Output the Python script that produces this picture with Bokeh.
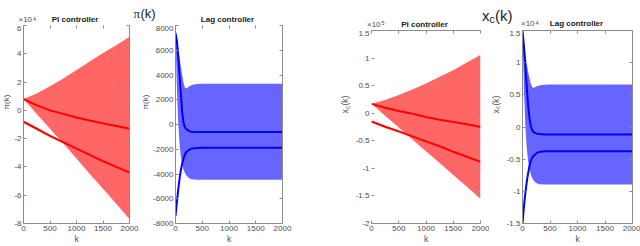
import math
from bokeh.plotting import figure
from bokeh.layouts import row, column
from bokeh.models import Range1d, FixedTicker, LinearAxis, Label
from bokeh.embed import file_html
from bokeh.resources import INLINE

# ---------------- data ----------------
k_ticks = [0, 500, 1000, 1500, 2000]
k_ticklabels = ["0", "500", "1000", "1500", "2000"]

# PI controller (slowly drifting, growing band)
k_pi = [0, 250, 500, 750, 1000, 1250, 1500, 1750, 2000]
k_pi_band = [0, 250, 500, 750]

pi_PI_env_hi = [8000, 12000, 17000, 22500, 28500, 34500, 40500, 46000, 52000]
pi_PI_env_lo = [8000, -2500, -13000, -23500, -34000, -45000, -55500, -66000, -77000]
pi_PI_band_hi = [-7400, -12400, -17400, -21900]
pi_PI_band_lo = [-8900, -13900, -18900, -23400]
pi_PI_upper = [8000, 3500, 0, -2500, -5000, -7200, -9200, -11000, -13000]
pi_PI_lower = [-8000, -13000, -18000, -22500, -27000, -31500, -36000, -40000, -44000]

xc_PI_env_hi = [17000, 24000, 33000, 43000, 54000, 66000, 78000, 92000, 106000]
xc_PI_env_lo = [17000, -4500, -26000, -47500, -69000, -90500, -112000, -133500, -155000]
xc_PI_band_hi = [-13500, -23000, -31500, -40500]
xc_PI_band_lo = [-17000, -26500, -35000, -44000]
xc_PI_upper = [17000, 10000, 4000, -1000, -7000, -12000, -16000, -20000, -25000]
xc_PI_lower = [-15000, -24500, -33000, -42000, -51000, -60000, -70000, -79000, -88000]

# Lag controller (fast settling, bounded band)
k_lag = [0, 25, 50, 75, 100, 125, 150, 175, 200, 250, 300, 400, 500, 750, 1000, 1500, 2000]

pi_LAG_env_hi = [7400, 7000, 6200, 5400, 4700, 4000, 3400, 3000, 2900, 3050, 3200, 3280, 3300, 3300, 3300, 3300, 3300]
pi_LAG_env_lo = [7400, 3000, 200, -1500, -2600, -3250, -3650, -3900, -4100, -4330, -4420, -4460, -4470, -4470, -4470, -4470, -4470]
pi_LAG_upper = [7400, 6800, 5600, 4000, 2500, 1000, 150, -200, -380, -520, -580, -600, -600, -600, -600, -600, -600]
pi_LAG_lower = [-7400, -6300, -5300, -4400, -3700, -3150, -2750, -2450, -2250, -2050, -1950, -1890, -1880, -1880, -1880, -1880, -1880]

xc_LAG_env_hi = [14900, 13000, 11500, 10000, 8700, 7600, 6800, 6200, 6050, 6300, 6450, 6580, 6600, 6600, 6600, 6600, 6600]
xc_LAG_env_lo = [14900, 6000, 400, -3000, -5200, -6500, -7300, -7900, -8300, -8700, -8880, -8940, -8950, -8950, -8950, -8950, -8950]
xc_LAG_upper = [14900, 12700, 9700, 6500, 3600, 1500, 150, -450, -800, -1000, -1100, -1150, -1150, -1150, -1150, -1150, -1150]
xc_LAG_lower = [-15000, -12500, -10400, -8700, -7300, -6100, -5300, -4800, -4500, -4100, -3880, -3780, -3750, -3750, -3750, -3750, -3750]

# y ticks / labels
pi_PI_yticks = [-80000, -60000, -40000, -20000, 0, 20000, 40000, 60000]
pi_PI_ylabels = ["-8", "-6", "-4", "-2", "0", "2", "4", "6"]
pi_LAG_yticks = [-8000, -6000, -4000, -2000, 0, 2000, 4000, 6000, 8000]
pi_LAG_ylabels = ["-8000", "-6000", "-4000", "-2000", "0", "2000", "4000", "6000", "8000"]
xc_PI_yticks = [-200000, -150000, -100000, -50000, 0, 50000, 100000, 150000]
xc_PI_ylabels = ["-2", "-1.5", "-1", "-0.5", "0", "0.5", "1", "1.5"]
xc_LAG_yticks = [-15000, -10000, -5000, 0, 5000, 10000, 15000]
xc_LAG_ylabels = ["-1.5", "-1", "-0.5", "0", "0.5", "1", "1.5"]

# ---------------- styling ----------------
FONT = "Liberation Sans"
GRAY = "#8c8c8c"
TXT = "#4d4d4d"
DARK = "#1a1a1a"
RED_FILL, RED = "#ff6666", "#ff0000"
BLUE_FILL, BLUE = "#6666ff", "#0000ff"


def lab(p, x, y, text, size, font=FONT, color=TXT, **kw):
    p.add_layout(Label(x=x, y=y, x_units="screen", y_units="screen", text=text,
                       text_font=font, text_font_size=f"{size}px", text_color=color, **kw))


def blank(w, h):
    b = figure(width=w, height=h, output_backend="svg", toolbar_location=None,
               x_axis_type=None, y_axis_type=None, min_border=0,
               outline_line_color=None, x_range=Range1d(0, 1), y_range=Range1d(0, 1),
               background_fill_color="white", border_fill_color="white")
    b.grid.visible = False
    return b


def bare_axis(ticks, line_on):
    return LinearAxis(ticker=FixedTicker(ticks=ticks), major_label_text_font_size="0px",
                      major_label_text_color=None, major_label_standoff=0,
                      major_tick_in=3, major_tick_out=0, minor_tick_line_color=None,
                      major_tick_line_color=GRAY,
                      axis_line_color=GRAY if line_on else None)


def panel(width, height, b_left, b_right, b_bottom, ylo, yhi, yticks, ylabels,
          left_line=True, right_line=True, top_line=True):
    p = figure(width=width, height=height, output_backend="svg", toolbar_location=None,
               x_range=Range1d(0, 2000), y_range=Range1d(ylo, yhi),
               min_border_left=b_left, min_border_right=b_right,
               min_border_top=0, min_border_bottom=b_bottom,
               outline_line_color=None, background_fill_color="white",
               border_fill_color="white")
    p.grid.visible = False
    xa = p.xaxis[0]
    xa.ticker = FixedTicker(ticks=k_ticks)
    xa.major_label_overrides = dict(zip(k_ticks, k_ticklabels))
    xa.axis_label = "k"
    xa.axis_label_standoff = 0
    xa.axis_label_text_font = FONT
    xa.axis_label_text_font_size = "8.5px"
    xa.axis_label_text_font_style = "normal"
    xa.axis_label_text_color = TXT
    ya = p.yaxis[0]
    ya.ticker = FixedTicker(ticks=yticks)
    ya.major_label_overrides = dict(zip(yticks, ylabels))
    for ax in (xa, ya):
        ax.major_tick_in = 3
        ax.major_tick_out = 0
        ax.minor_tick_line_color = None
        ax.major_tick_line_color = GRAY
        ax.axis_line_color = GRAY
        ax.major_label_text_font = FONT
        ax.major_label_text_font_size = "8px"
        ax.major_label_text_color = TXT
        ax.major_label_standoff = 2
    if not left_line:
        ya.axis_line_color = None
    p.add_layout(bare_axis(yticks, right_line), "right")
    p.add_layout(bare_axis(k_ticks, top_line), "above")
    return p


def ylabel_pi(fig, x, y):
    lab(fig, x, y, "\u03c0(k)", 8, angle=math.pi / 2,
        text_align="center", text_baseline="middle")


def ylabel_xc(fig, x, y):
    y0 = y - 9.0
    kw = dict(angle=math.pi / 2, text_align="left", text_baseline="middle")
    lab(fig, x, y0, "x", 8.5, **kw)
    lab(fig, x + 2, y0 + 4.4, "c", 6.5, **kw)
    lab(fig, x, y0 + 7.9, "(k)", 8.5, **kw)


def title(fig, x, y, text):
    lab(fig, x, y, text, 8, color=DARK, text_font_style="bold",
        text_align="center", text_baseline="bottom")


def exponent(fig, x, y, power, dy=3.6):
    lab(fig, x, y, "\u00d710", 8, text_align="left", text_baseline="bottom")
    lab(fig, x + 14.5, y + dy, power, 5.5, text_align="left", text_baseline="bottom")


# ---------------- left half: pi(k) ----------------
HL = 221          # panel figure height (frame 199 + bottom axis 22)
p1 = panel(128, HL, 9, 10, 22, -80000, 60000, pi_PI_yticks, pi_PI_ylabels,
           left_line=True, right_line=True, top_line=False)
p1.varea(x=k_pi, y1=pi_PI_env_lo, y2=pi_PI_env_hi, fill_color=RED_FILL)
p1.varea(x=k_pi_band, y1=pi_PI_band_lo, y2=pi_PI_band_hi, fill_color=RED_FILL)
p1.line(x=k_pi, y=pi_PI_upper, line_color=RED, line_width=2)
p1.line(x=k_pi, y=pi_PI_lower, line_color=RED, line_width=2)

p2 = panel(185, HL, 22, 53, 22, -8000, 8000, pi_LAG_yticks, pi_LAG_ylabels,
           left_line=True, right_line=True, top_line=False)
p2.varea(x=k_lag, y1=pi_LAG_env_lo, y2=pi_LAG_env_hi, fill_color=BLUE_FILL)
p2.line(x=k_lag, y=pi_LAG_upper, line_color=BLUE, line_width=2)
p2.line(x=k_lag, y=pi_LAG_lower, line_color=BLUE, line_width=2)

yl1 = blank(11, HL)
ylabel_pi(yl1, 6.0, 121.5)
yl2 = blank(11, HL)
ylabel_pi(yl2, 6.0, 121.5)

strip_L = blank(335, 25)
lab(strip_L, 133, 12.5, "\u03c0", 13, font="Liberation Serif", color=DARK,
    text_align="left", text_baseline="alphabetic")
lab(strip_L, 140, 12.5, "(k)", 13, color=DARK, text_align="left", text_baseline="alphabetic")
title(strip_L, 74.5, 1.2, "PI controller")
title(strip_L, 227, 2.0, "Lag controller")
exponent(strip_L, 18, 1.2, "4")

# ---------------- right half: x_c(k) ----------------
HR = 216          # panel figure height (frame 194 + bottom axis 22)
p3 = panel(137, HR, 16, 9, 22, -200000, 150000, xc_PI_yticks, xc_PI_ylabels,
           left_line=False, right_line=False, top_line=True)
p3.varea(x=k_pi, y1=xc_PI_env_lo, y2=xc_PI_env_hi, fill_color=RED_FILL)
p3.varea(x=k_pi_band, y1=xc_PI_band_lo, y2=xc_PI_band_hi, fill_color=RED_FILL)
p3.line(x=k_pi, y=xc_PI_upper, line_color=RED, line_width=2)
p3.line(x=k_pi, y=xc_PI_lower, line_color=RED, line_width=2)

p4 = panel(137, HR, 16, 8, 22, -15000, 15000, xc_LAG_yticks, xc_LAG_ylabels,
           left_line=True, right_line=True, top_line=True)
p4.varea(x=k_lag, y1=xc_LAG_env_lo, y2=xc_LAG_env_hi, fill_color=BLUE_FILL)
p4.line(x=k_lag, y=xc_LAG_upper, line_color=BLUE, line_width=2)
p4.line(x=k_lag, y=xc_LAG_lower, line_color=BLUE, line_width=2)

yl3 = blank(17, HR)
ylabel_xc(yl3, 9.5, 119)
yl4 = blank(14, HR)
ylabel_xc(yl4, 6, 119)

strip_R = blank(305, 30)
lab(strip_R, 146.5, 15.0, "x", 15, color=DARK, text_align="left", text_baseline="alphabetic")
lab(strip_R, 154, 12.0, "c", 10.5, color=DARK, text_align="left", text_baseline="alphabetic")
lab(strip_R, 159.5, 15.0, "(k)", 15, color=DARK, text_align="left", text_baseline="alphabetic")
title(strip_R, 89, 1.6, "PI controller")
title(strip_R, 241, 2.2, "Lag controller")
exponent(strip_R, 31.5, 1.8, "5")
exponent(strip_R, 185.5, 2.4, "4")

layout = row(column(strip_L, row(yl1, p1, yl2, p2, spacing=0), spacing=0),
             column(strip_R, row(yl3, p3, yl4, p4, spacing=0), spacing=0), spacing=0)

open("out.html", "w").write(file_html(layout, INLINE))
